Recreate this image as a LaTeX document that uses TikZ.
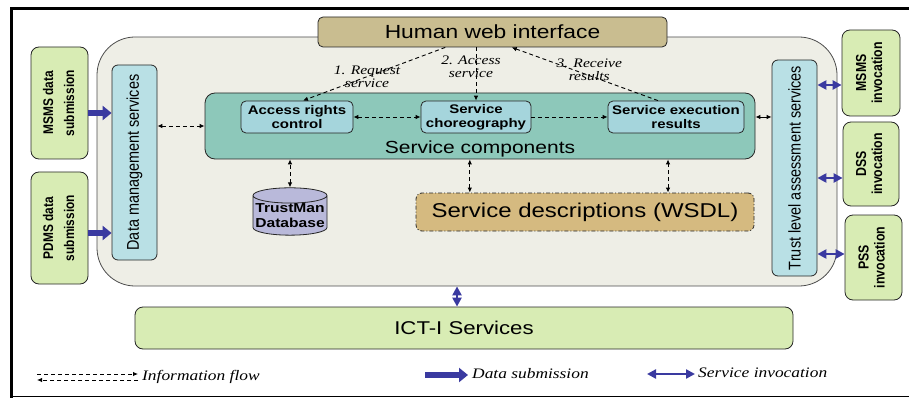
\documentclass[tikz,border=0pt]{standalone}
\usepackage{fontspec}
\usepackage{graphicx}
\setmainfont{Liberation Sans}[FakeStretch=1.2]
\newfontfamily\vertfont{Liberation Sans}[FakeStretch=0.85]
\newfontfamily\notefont{Liberation Serif}[FakeStretch=1.2]
\usetikzlibrary{arrows.meta,shapes.geometric,calc}
\definecolor{backfill}{HTML}{EEEEE6}
\definecolor{webfill}{HTML}{C9BD90}
\definecolor{appgreen}{HTML}{D8ECB4}
\definecolor{srvblue}{HTML}{B9E0E5}
\definecolor{compteal}{HTML}{8DC8BA}
\definecolor{partblue}{HTML}{A5D5DC}
\definecolor{dbfill}{HTML}{B9B9DA}
\definecolor{wsdlfill}{HTML}{D5BA80}
\definecolor{subblue}{HTML}{3A3AA0}
\newcommand{\vlabel}[1]{\rotatebox{90}{\begin{tabular}{@{}c@{}}#1\end{tabular}}}
\tikzset{
  box/.style={draw=black!85,line width=0.8pt,rounded corners=6pt,inner sep=1pt,align=center},
  appbox/.style={box,fill=appgreen,rounded corners=8pt},
  srvbox/.style={box,fill=srvblue,font=\vertfont\fontsize{17}{17}\selectfont},
  partbox/.style={box,fill=partblue,rounded corners=5pt,font=\bfseries\fontsize{12.5}{14}\selectfont},
  note/.style={font=\notefont\itshape\fontsize{13}{13}\selectfont,align=center,inner sep=0pt},
  legend/.style={font=\notefont\itshape\fontsize{14.5}{15}\selectfont,anchor=west,inner sep=0pt},
  flow/.style={<->,line width=0.9pt,dash pattern=on 4pt off 3pt},
  flowto/.style={->,line width=0.9pt,dash pattern=on 4pt off 3pt},
  datasub/.style={draw=subblue,line width=6pt,-{Triangle[length=9pt,width=14pt]}},
  invoke/.style={draw=subblue,line width=2.5pt,{Triangle[length=9pt,width=9pt]}-{Triangle[length=9pt,width=9pt]}}
}
\begin{document}
\begin{tikzpicture}[x=1pt,y=-1pt,>={Latex[length=5pt,width=4.5pt]}]
\useasboundingbox (0,0) rectangle (909,398);
\draw[line width=3pt] (11.5,398) -- (11.5,9) -- (909,9);
\draw[line width=0.8pt] (11.5,396.5) -- (909,396.5);
\path (467,161.5) node (back) [draw=black!70,line width=0.8pt,fill=backfill,minimum width=740pt,minimum height=249pt,rounded corners=38pt] {}
(492.5,32) node (human) [box,fill=webfill,rounded corners=5pt,minimum width=349pt,minimum height=30pt,font=\fontsize{19}{19}\selectfont] {Human web interface}
(59.5,103) node (msmsSub) [appbox,minimum width=57pt,minimum height=112pt,font=\vertfont\bfseries\fontsize{14}{21}\selectfont] {\vlabel{MSMS data\\submission}}
(59.5,228) node (pdmsSub) [appbox,minimum width=57pt,minimum height=112pt,font=\vertfont\bfseries\fontsize{14}{21}\selectfont] {\vlabel{PDMS data\\submission}}
(134.5,162.5) node (dms) [srvbox,minimum width=45pt,minimum height=195pt] {\rotatebox{90}{Data management services}}
(794.5,168) node (trust) [srvbox,minimum width=45pt,minimum height=216pt] {\rotatebox{90}{Trust level assessment services}}
(480,126) node (comp) [box,fill=compteal,rounded corners=10pt,minimum width=550pt,minimum height=66pt,
  label={[anchor=south,inner sep=2pt,font=\fontsize{17.5}{18}\selectfont]south:Service components}] {}
(297,117) node (acc) [partbox,minimum width=112pt,minimum height=32pt] {Access rights\\control}
(476,117) node (chor) [partbox,minimum width=110pt,minimum height=32pt] {Service\\choreography}
(676,117) node (exec) [partbox,minimum width=136pt,minimum height=32pt] {Service execution\\results}
(871,73) node (msmsInv) [appbox,minimum width=58pt,minimum height=86pt,font=\vertfont\bfseries\fontsize{14.5}{16}\selectfont] {\vlabel{MSMS\\invocation}}
(871,164) node (dssInv) [appbox,minimum width=56pt,minimum height=84pt,font=\vertfont\bfseries\fontsize{14.5}{16}\selectfont] {\vlabel{DSS\\invocation}}
(873.5,257.5) node (pssInv) [appbox,minimum width=57pt,minimum height=85pt,font=\vertfont\bfseries\fontsize{14.5}{16}\selectfont] {\vlabel{PSS\\invocation}}
(290,215.5) node (db) [cylinder,shape border rotate=90,aspect=0.22,draw=black!85,line width=0.8pt,fill=dbfill,minimum width=74pt,minimum height=45pt,inner sep=0pt,align=center,font=\bfseries\fontsize{13}{15}\selectfont] {TrustMan\\Database}
(585,212) node (wsdl) [box,fill=wsdlfill,dash pattern=on 4pt off 2pt on 1pt off 2pt,minimum width=338pt,minimum height=38pt,font=\fontsize{20}{20}\selectfont] {Service descriptions (WSDL)}
(464,328) node (ict) [appbox,minimum width=658pt,minimum height=42pt,font=\fontsize{18.5}{19}\selectfont] {ICT-I Services}
(142,377) node (infoNote) [legend] {Information flow}
(472,374) node (subNote) [legend] {Data submission}
(698,373) node (invNote) [legend] {Service invocation};
\draw [flowto] ($(human.south west)!.365!(human.south east)$) -- ($(acc.north)+(6,0)$)
  node [note,pos=.55] {1. Request\\service};
\draw [flowto] (human.south -| chor.north) -- (chor.north)
  node [note,pos=.37,xshift=-5pt] {2. Access\\service};
\draw [flowto] ($(exec.north)+(-18,0)$) -- ($(human.south west)!.555!(human.south east)$)
  node [note,pos=.47,yshift=6pt] {3. Receive\\results};
\draw [flow] (dms.east |- comp.west) -- (comp.west);
\draw [flow] (acc.east) -- (chor.west);
\draw [flowto] (chor.east) -- (exec.west);
\draw [<->,line width=0.9pt] (comp.east |- exec) -- (exec -| trust.west);
\draw [flow] (db.north) -- (db.north |- comp.south);
\draw [flow] ($(wsdl.north west)!.16!(wsdl.north east)$) coordinate (w1) -- (w1 |- comp.south);
\draw [flow] ($(wsdl.north west)!.745!(wsdl.north east)$) coordinate (w2) -- (w2 |- comp.south);
\draw [datasub] ($(msmsSub.east)+(0,10)$) coordinate (s1) -- (s1 -| dms.west);
\draw [datasub] ($(pdmsSub.east)+(0,5)$) coordinate (s2) -- (s2 -| dms.west);
\draw [invoke] ($(msmsInv.west)+(0,12)$) coordinate (v1) -- (v1 -| trust.east);
\draw [invoke] ($(dssInv.west)+(0,14)$) coordinate (v2) -- (v2 -| trust.east);
\draw [invoke] ($(pssInv.west)+(0,-3.5)$) coordinate (v3) -- (v3 -| trust.east);
\draw [invoke] ($(ict.north)+(-7,0)$) coordinate (v4) -- (v4 |- back.south);
\coordinate (infoA) at ($(infoNote.west)+(-105,-3)$);
\coordinate (infoB) at ($(infoNote.west)+(-4,3)$);
\draw [flowto] (infoA) -- (infoA -| infoB);
\draw [flowto] (infoB) -- (infoB -| infoA);
\draw [datasub] ($(subNote.west)+(-47,1)$) coordinate (subA) -- ($(subNote.west)+(-4,1)$);
\draw [invoke] ($(invNote.west)+(-51,1)$) coordinate (invA) -- ($(invNote.west)+(-3,1)$);
\end{tikzpicture}
\end{document}
